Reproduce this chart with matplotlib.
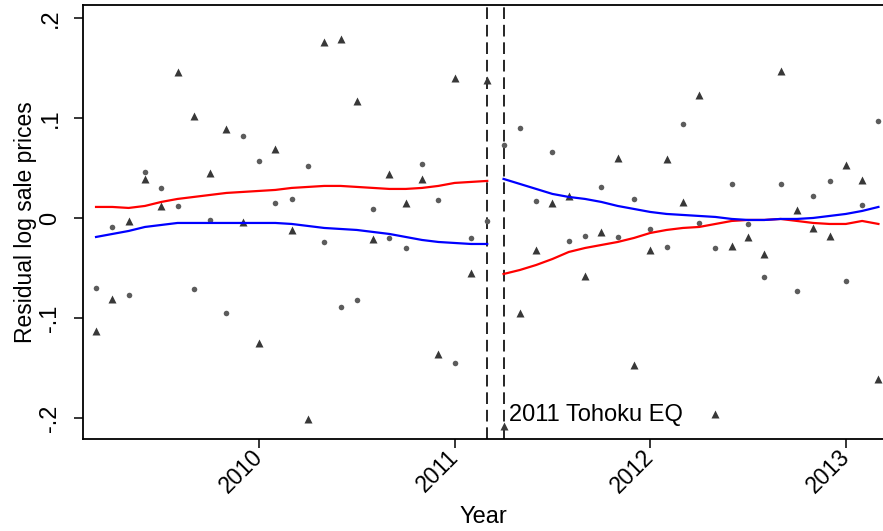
import numpy as np
import matplotlib.pyplot as plt

plt.rcParams['font.family'] = ['Liberation Sans', 'DejaVu Sans']

# meses de marzo 2009 a marzo 2013
meses = 2009 + (np.arange(49) + 2) / 12
evento = [2011 + 2/12, 2011 + 3/12]

circulos = [-0.070, -0.009, -0.077, 0.046, 0.030, 0.012, -0.071, -0.002, -0.095, 0.082,
            0.057, 0.015, 0.019, 0.052, -0.024, -0.089, -0.082, 0.009, -0.020, -0.030,
            0.054, 0.018, -0.145, -0.020, -0.003, 0.073, 0.090, 0.017, 0.066, -0.023,
            -0.018, 0.031, -0.019, 0.019, -0.011, -0.029, 0.094, -0.005, -0.030, 0.034,
            -0.006, -0.059, 0.034, -0.073, 0.022, 0.037, -0.063, 0.013, 0.097]

triangulos = [-0.113, -0.081, -0.003, 0.039, 0.012, 0.146, 0.102, 0.045, 0.089, -0.004,
              -0.125, 0.069, -0.012, -0.201, 0.176, 0.179, 0.117, -0.021, 0.044, 0.015,
              0.039, -0.136, 0.140, -0.055, 0.138, -0.208, -0.095, -0.032, 0.015, 0.022,
              -0.058, -0.014, 0.060, -0.147, -0.032, 0.059, 0.016, 0.123, -0.196, -0.028,
              -0.019, -0.036, 0.147, 0.008, -0.010, -0.018, 0.053, 0.038, -0.161]

rojo_antes = [0.011, 0.011, 0.010, 0.012, 0.016, 0.019, 0.021, 0.023, 0.025, 0.026,
              0.027, 0.028, 0.030, 0.031, 0.032, 0.032, 0.031, 0.030, 0.029, 0.029,
              0.030, 0.032, 0.035, 0.036, 0.037]
azul_antes = [-0.019, -0.016, -0.013, -0.009, -0.007, -0.005, -0.005, -0.005, -0.005, -0.005,
              -0.005, -0.005, -0.006, -0.008, -0.010, -0.011, -0.012, -0.014, -0.016, -0.019,
              -0.022, -0.024, -0.025, -0.026, -0.026]
rojo_despues = [-0.056, -0.052, -0.047, -0.041, -0.034, -0.030, -0.027, -0.024, -0.020, -0.015,
                -0.012, -0.010, -0.009, -0.006, -0.003, -0.002, -0.002, -0.001, -0.003, -0.005,
                -0.006, -0.006, -0.003, -0.006]
azul_despues = [0.039, 0.034, 0.029, 0.024, 0.021, 0.019, 0.016, 0.012, 0.009, 0.006,
                0.004, 0.003, 0.002, 0.001, -0.001, -0.002, -0.002, -0.001, -0.001, 0.000,
                0.002, 0.004, 0.007, 0.011]

anios = [2010, 2011, 2012, 2013]
y_ticks = [-0.2, -0.1, 0, 0.1, 0.2]
y_etiquetas = ['-.2', '-.1', '0', '.1', '.2']

fs = 17

fig = plt.figure(figsize=(8.83, 5.31), dpi=100)
ax = fig.add_axes([0.094, 0.173, 0.906, 0.818])

ax.plot(meses, circulos, 'o', color='#5c5c5c', ms=4, mec='none', zorder=3)
ax.plot(meses, triangulos, '^', color='#383838', ms=5.5, mec='none', zorder=3)

n = len(rojo_antes)
ax.plot(meses[:n], rojo_antes, color='#ff0000', lw=1.6, zorder=4)
ax.plot(meses[:n], azul_antes, color='#0000ff', lw=1.6, zorder=4)
ax.plot(meses[n:], rojo_despues, color='#ff0000', lw=1.6, zorder=4)
ax.plot(meses[n:], azul_despues, color='#0000ff', lw=1.6, zorder=4)

for xv in evento:
    ax.axvline(xv, color='black', lw=1.2, ls=(0, (7, 3.5)), zorder=2)
ax.text(evento[1] + 0.03, -0.197, '2011 Tohoku EQ', fontsize=fs, va='center', ha='left')

ax.set_xlim(2009.10, 2013.19)
ax.set_ylim(-0.221, 0.213)
ax.set_xticks(anios)
ax.set_xticklabels([str(a) for a in anios], rotation=45, ha='right', va='center',
                   rotation_mode='anchor', fontsize=fs - 0.5)
ax.set_yticks(y_ticks)
ax.set_yticklabels(y_etiquetas, rotation=90, va='center', fontsize=fs)
ax.tick_params(axis='both', direction='out', length=6.5, width=1.1)
ax.tick_params(axis='x', pad=4)
ax.tick_params(axis='y', pad=9)
ax.spines['right'].set_visible(False)
for s in ['left', 'bottom', 'top']:
    ax.spines[s].set_linewidth(1.3)

ax.set_xlabel('Year', fontsize=fs, labelpad=6)
ax.set_ylabel('Residual log sale prices', fontsize=16.5, labelpad=2)

fig.savefig('out.png', dpi=100)
